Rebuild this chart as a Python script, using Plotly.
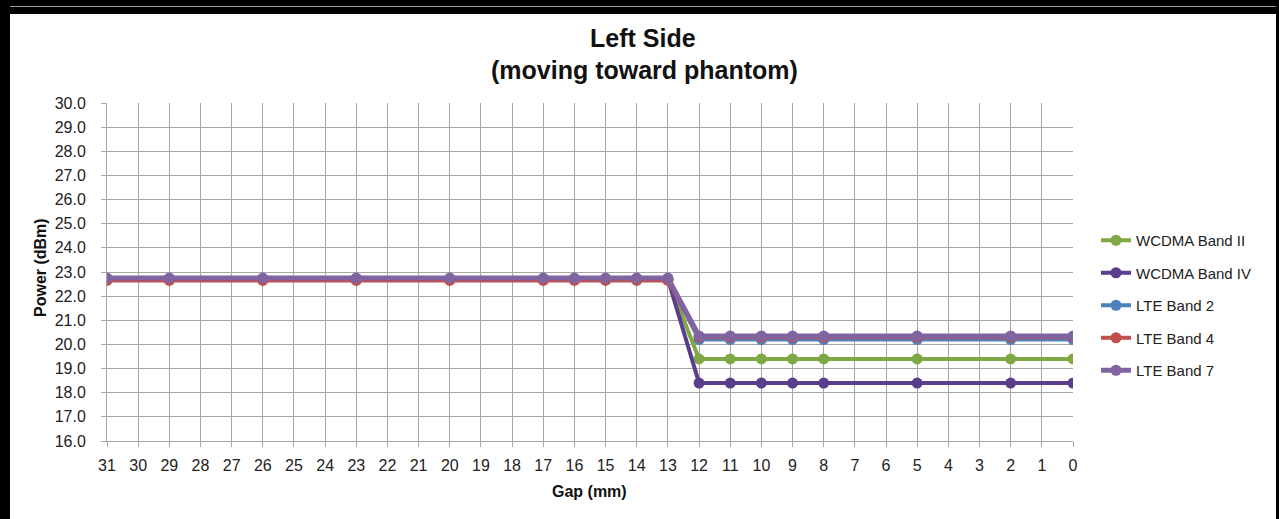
import plotly.graph_objects as go

gap_mm = [31, 29, 26, 23, 20, 17, 16, 15, 14, 13, 12, 11, 10, 9, 8, 5, 2, 0]
wcdma_band_ii = [22.7] * 10 + [19.4] * 8
wcdma_band_iv = [22.7] * 10 + [18.4] * 8
lte_band_2 = [22.7] * 10 + [20.2] * 8
lte_band_4 = [22.65] * 10 + [20.3] * 8
lte_band_7 = [22.75] * 10 + [20.35] * 8

series_names = ["WCDMA Band II", "WCDMA Band IV", "LTE Band 2", "LTE Band 4", "LTE Band 7"]
series_values = [wcdma_band_ii, wcdma_band_iv, lte_band_2, lte_band_4, lte_band_7]
series_colors = ["#7FA845", "#5A3E8C", "#4F81BD", "#C0504D", "#8064A2"]
series_widths = [4, 4, 4, 4, 5]

x_ticks = list(range(31, -1, -1))

W, H = 1279, 519
L, R, T, B = 107, 206, 103, 78
PW, PH = W - L - R, H - T - B


def px(x):
    return (x - L) / PW


def py(y):
    return (H - B - y) / PH


fig = go.Figure()
for i, (name, vals, col, lw) in enumerate(zip(series_names, series_values, series_colors, series_widths)):
    fig.add_trace(go.Scatter(
        x=gap_mm, y=vals, name=name, mode="lines+markers",
        line=dict(color=col, width=lw),
        marker=dict(color=col, size=11, symbol="circle"),
        legendgroup=f"g{i}",
    ))

font_fam = "Liberation Sans, Arial, sans-serif"

fig.update_layout(
    width=W, height=H,
    margin=dict(l=L, r=R, t=T, b=B),
    paper_bgcolor="white", plot_bgcolor="white",
    showlegend=True,
    legend=dict(
        x=px(1096), y=py(224), xanchor="left", yanchor="top",
        xref="paper", yref="paper",
        font=dict(family=font_fam, size=15, color="#222"),
        traceorder="grouped", tracegroupgap=10,
        bgcolor="rgba(0,0,0,0)",
        itemwidth=30,
    ),
    font=dict(family=font_fam, size=14, color="#222"),
)

fig.update_xaxes(
    range=[31, 0], tickmode="array", tickvals=x_ticks,
    ticktext=[str(v) for v in x_ticks],
    showgrid=True, gridcolor="#A6A6A6", gridwidth=1,
    showline=True, linecolor="#A6A6A6", linewidth=1,
    ticks="outside", ticklen=5, tickcolor="#A6A6A6",
    ticklabelstandoff=5,
    tickfont=dict(family=font_fam, size=16, color="#222"),
    zeroline=False,
)
fig.update_yaxes(
    range=[16, 30], dtick=1, tick0=16, tickformat=".1f",
    showgrid=True, gridcolor="#A6A6A6", gridwidth=1,
    showline=True, linecolor="#A6A6A6", linewidth=1,
    ticks="outside", ticklen=5, tickcolor="#A6A6A6",
    ticklabelstandoff=12,
    tickfont=dict(family=font_fam, size=16, color="#222"),
    zeroline=False,
)

annotations = [
    dict(text="<b>Left Side</b>", x=px(643), y=py(38), xref="paper", yref="paper",
         xanchor="center", yanchor="middle",
         showarrow=False, font=dict(family="Liberation Sans, Arial", size=25, color="#111")),
    dict(text="<b>(moving toward phantom)</b>", x=px(644), y=py(70), xref="paper", yref="paper",
         xanchor="center", yanchor="middle",
         showarrow=False, font=dict(family="Liberation Sans, Arial", size=25, color="#111")),
    dict(text="<b>Power (dBm)</b>", x=px(40), y=py(268), xref="paper", yref="paper",
         xanchor="center", yanchor="middle",
         showarrow=False, textangle=-90, font=dict(family=font_fam, size=16, color="#111")),
    dict(text="<b>Gap (mm)</b>", x=px(589), y=py(491), xref="paper", yref="paper",
         xanchor="center", yanchor="middle",
         showarrow=False, font=dict(family=font_fam, size=16, color="#111")),
]
fig.update_layout(annotations=annotations)

# decorative black frame of the original screenshot
shapes = [
    dict(type="rect", xref="paper", yref="paper", x0=px(0), x1=px(W), y0=py(0), y1=py(14),
         fillcolor="black", line=dict(width=0), layer="above"),
    dict(type="line", xref="paper", yref="paper", x0=px(0), x1=px(W), y0=py(6), y1=py(6),
         line=dict(color="#9A9A9A", width=1), layer="above"),
    dict(type="rect", xref="paper", yref="paper", x0=px(0), x1=px(10), y0=py(0), y1=py(H),
         fillcolor="black", line=dict(width=0), layer="above"),
    dict(type="rect", xref="paper", yref="paper", x0=px(1276), x1=px(W), y0=py(0), y1=py(H),
         fillcolor="black", line=dict(width=0), layer="above"),
]
fig.update_layout(shapes=shapes)

frame_js = """
document.body.style.margin='0';
(function(){
  function bar(l,t,w,h,c){
    var d=document.createElement('div');
    d.style.cssText='position:absolute;left:'+l+'px;top:'+t+'px;width:'+w+'px;height:'+h+'px;background:'+c+';z-index:1000;pointer-events:none;';
    document.body.appendChild(d);
  }
  bar(0,0,1279,14,'#000');
  bar(0,6,1279,1,'#9a9a9a');
  bar(0,0,10,519,'#000');
  bar(1276,0,3,519,'#000');
})();
"""

fig.write_html(
    "out.html",
    config={"displayModeBar": False},
    post_script=frame_js,
)
